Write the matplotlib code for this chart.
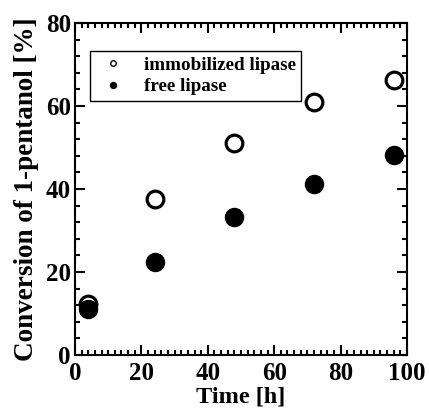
import matplotlib
matplotlib.use("Agg")
import matplotlib.pyplot as plt
from matplotlib.ticker import MultipleLocator

time_h = [4, 24, 48, 72, 96]
immobilized = [12.3, 37.5, 51.0, 61.0, 66.2]
free = [11.0, 22.4, 33.2, 41.2, 48.3]
x_ticks = [0, 20, 40, 60, 80, 100]
y_ticks = [0, 20, 40, 60, 80]

plt.rcParams['font.family'] = ['Liberation Serif', 'DejaVu Serif']
plt.rcParams['font.weight'] = 'bold'

fig = plt.figure(figsize=(4.29, 4.08), dpi=100)
ax = fig.add_axes([75/429, 1-355/408, 332/429, 332/408])

ax.plot(time_h, immobilized, 'o', ms=12, mfc='white', mec='black', mew=2.3,
        label='immobilized lipase', clip_on=False, zorder=3)
ax.plot(time_h, free, 'o', ms=13, mfc='black', mec='black', mew=1.0,
        label='free lipase', clip_on=False, zorder=3)

ax.set_xlim(0, 100)
ax.set_ylim(0, 80)
ax.set_xticks(x_ticks)
ax.set_yticks(y_ticks)
ax.xaxis.set_minor_locator(MultipleLocator(2))
ax.yaxis.set_minor_locator(MultipleLocator(4))
ax.tick_params(which='both', direction='in', top=True, right=True, width=1.5)
ax.tick_params(which='major', length=7, labelsize=18)
ax.tick_params(which='minor', length=3.5)
ax.tick_params(axis='x', which='major', pad=5)
ax.tick_params(axis='y', which='major', pad=3)
for s in ax.spines.values():
    s.set_linewidth(1.5)

ax.set_xlabel('Time [h]', fontsize=17.5, fontweight='bold', labelpad=1)
ax.set_ylabel('Conversion of 1-pentanol [%]', fontsize=19.5, fontweight='bold', labelpad=5)

leg = ax.legend(loc='upper left', bbox_to_anchor=(0.045, 0.916), borderaxespad=0,
                fontsize=13.8, markerscale=0.33, frameon=True, fancybox=False,
                edgecolor='black', framealpha=1, borderpad=0.3, handlelength=1.8,
                handletextpad=0.7, labelspacing=0.2)
leg.get_frame().set_linewidth(1.0)
for t in leg.get_texts():
    t.set_fontweight('bold')
for h in leg.legend_handles:
    h.set_markeredgewidth(1.0)

fig.savefig('out.png', dpi=100)
